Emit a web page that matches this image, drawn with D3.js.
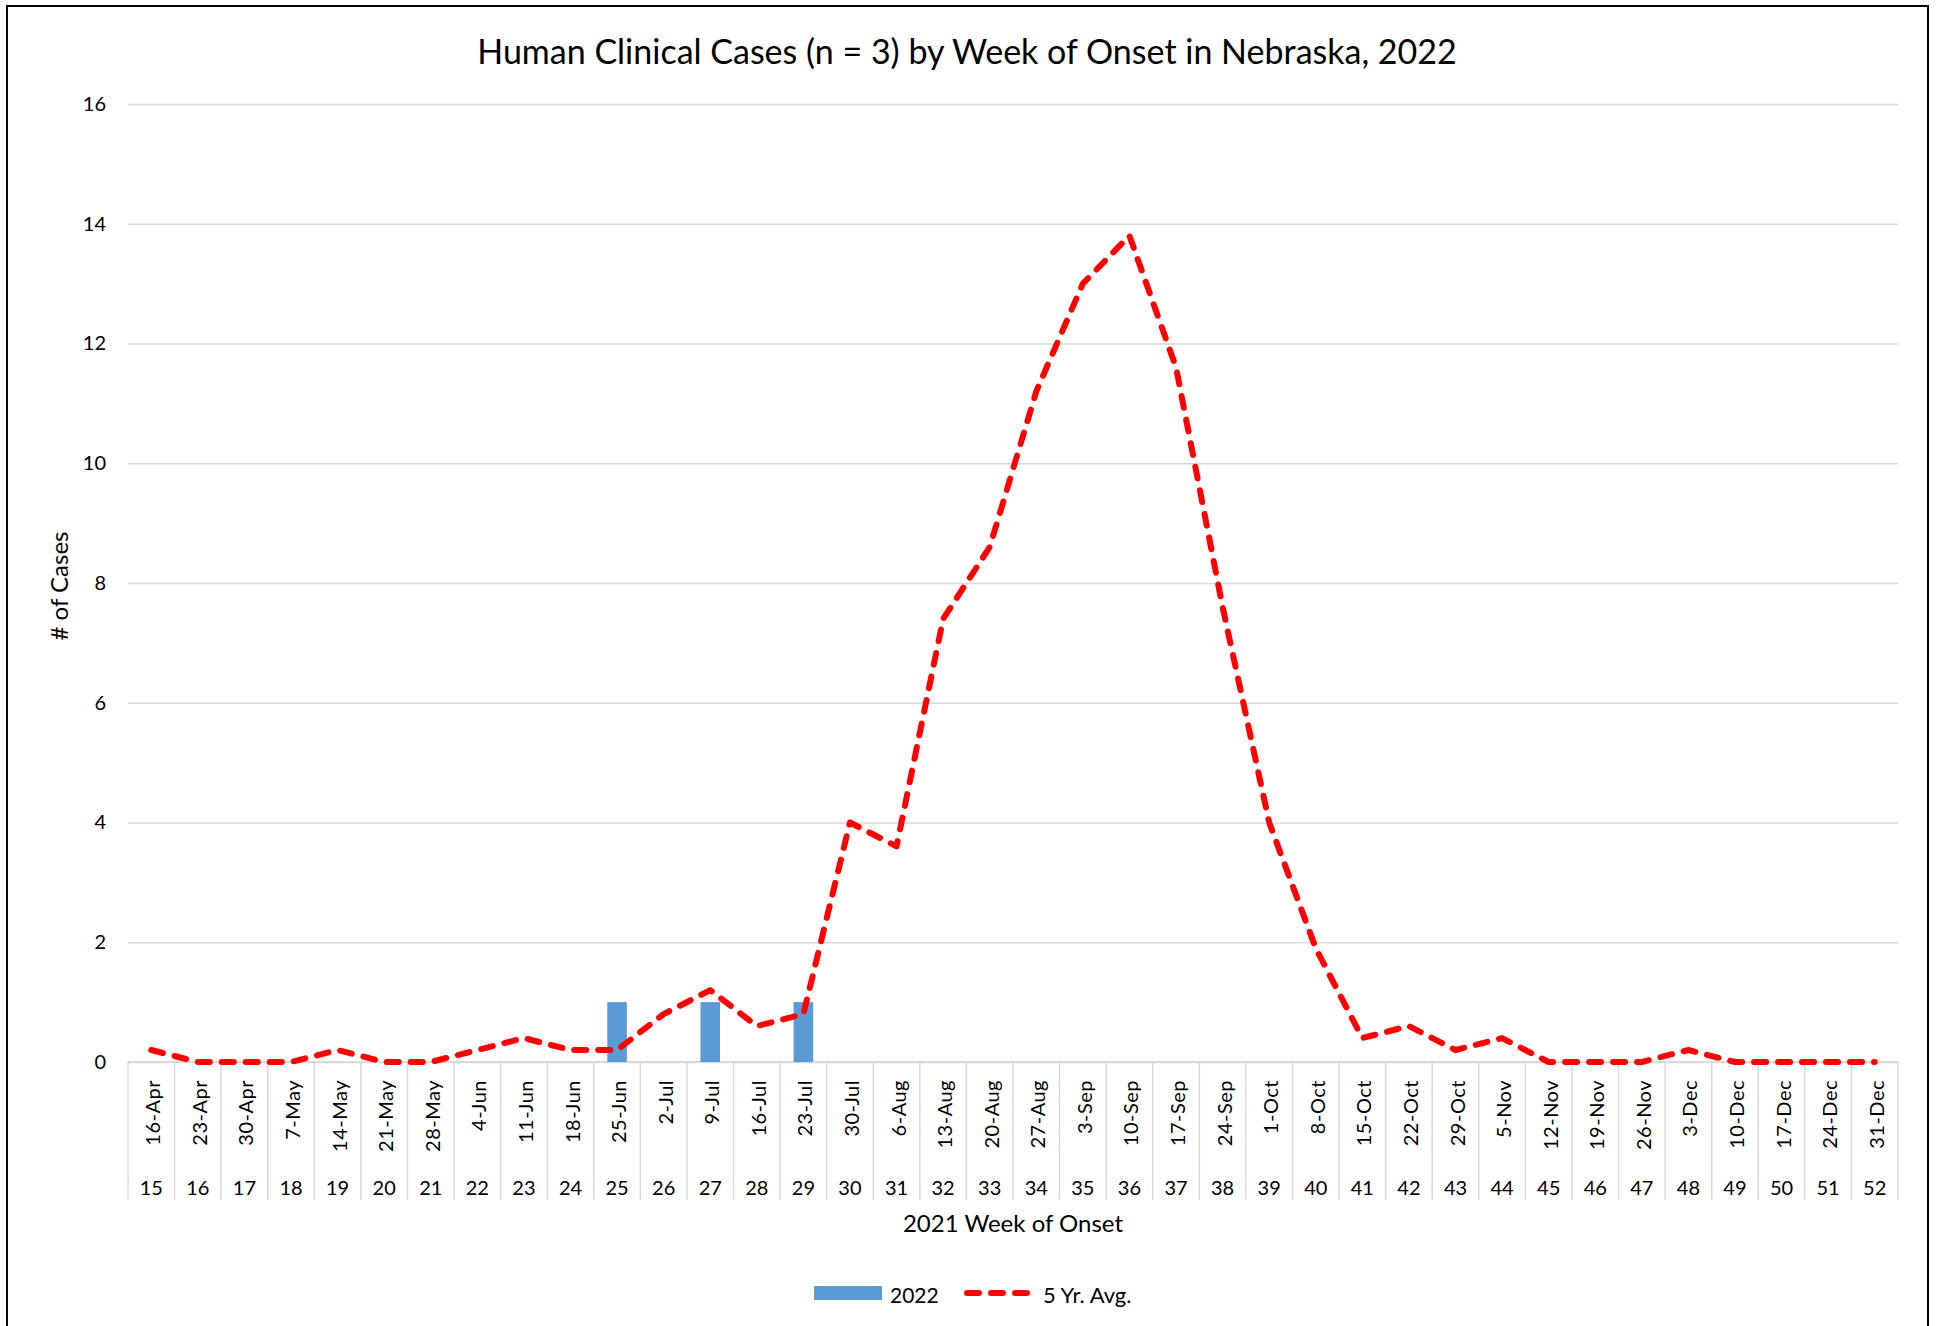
<!DOCTYPE html>
<html>
<head>
<meta charset="utf-8">
<script src="https://cdn.jsdelivr.net/npm/d3@7"></script>
<style>
  html, body { margin: 0; padding: 0; background: #fff; }
  svg { display: block; }
</style>
</head>
<body>
<div id="chart"></div>
<script>

const weeks = [15,16,17,18,19,20,21,22,23,24,25,26,27,28,29,30,31,32,33,34,35,36,37,38,39,40,41,42,43,44,45,46,47,48,49,50,51,52];
const weekDates = ["16-Apr","23-Apr","30-Apr","7-May","14-May","21-May","28-May","4-Jun","11-Jun","18-Jun","25-Jun","2-Jul","9-Jul","16-Jul","23-Jul","30-Jul","6-Aug","13-Aug","20-Aug","27-Aug","3-Sep","10-Sep","17-Sep","24-Sep","1-Oct","8-Oct","15-Oct","22-Oct","29-Oct","5-Nov","12-Nov","19-Nov","26-Nov","3-Dec","10-Dec","17-Dec","24-Dec","31-Dec"];
const cases2022 = [0,0,0,0,0,0,0,0,0,0,1,0,1,0,1,0,0,0,0,0,0,0,0,0,0,0,0,0,0,0,0,0,0,0,0,0,0,0];
const avg5yr = [0.2,0,0,0,0.2,0,0,0.2,0.4,0.2,0.2,0.8,1.2,0.6,0.8,4.0,3.6,7.4,8.6,11.2,13.0,13.8,11.6,7.6,4.0,1.9,0.4,0.6,0.2,0.4,0,0,0,0.2,0,0,0,0];
const yTicks = [0,2,4,6,8,10,12,14,16];

const width = 1937, height = 1326;
const margin = ({top: 104, right: 39, bottom: 264, left: 128});
const font = "Lato, 'Open Sans', sans-serif";

const data = weeks.map((w, i) => ({week: w, date: weekDates[i], bar: cases2022[i], avg: avg5yr[i]}));

const svg = d3.select("#chart")
            .append("svg")
            .attr("width", width)
            .attr("height", height)
            .style("font-family", font);

svg.append("rect")
    .attr("width", width)
    .attr("height", height)
    .attr("fill", "white");

// chart border (bottom edge runs off the picture)
svg.append("rect")
    .attr("x", 7)
    .attr("y", 6)
    .attr("width", 1921)
    .attr("height", 1340)
    .attr("fill", "none")
    .attr("stroke", "black")
    .attr("stroke-width", 2);

let x = d3.scaleBand()
        .domain(weeks)
        .range([margin.left, width - margin.right]);

let y = d3.scaleLinear()
        .domain([0, 16])
        .range([height - margin.bottom, margin.top]);

const y0 = y(0);

// horizontal gridlines + y labels
let yAxis = g => g
        .attr("transform", `translate(${margin.left},0)`)
        .call(d3.axisLeft(y).tickValues(yTicks).tickSize(0).tickPadding(22))
        .call(g => g.select(".domain").remove())
        .call(g => g.selectAll(".tick line").clone()
          .attr("stroke", "#d9d9d9")
          .attr("stroke-width", 1.5)
          .attr("x2", width - margin.right - margin.left))
        .call(g => g.selectAll(".tick text")
          .attr("fill", "#000")
          .style("font", `20px ${font}`));

svg.append("g").call(yAxis);

// category axis: separators between categories, two label levels
const axisG = svg.append("g");

axisG.selectAll("line.sep")
    .data(weeks.concat(["end"]))
    .enter().append("line")
      .attr("class", "sep")
      .attr("x1", (d, i) => margin.left + i * x.step())
      .attr("x2", (d, i) => margin.left + i * x.step())
      .attr("y1", y0)
      .attr("y2", y0 + 138)
      .attr("stroke", "#d9d9d9")
      .attr("stroke-width", 1.5);

axisG.append("line")
    .attr("x1", margin.left)
    .attr("x2", width - margin.right)
    .attr("y1", y0)
    .attr("y2", y0)
    .attr("stroke", "#d9d9d9")
    .attr("stroke-width", 2);

axisG.selectAll("text.date")
    .data(data)
    .enter().append("text")
      .attr("class", "date")
      .attr("transform", d => `translate(${x(d.week) + x.bandwidth() / 2 + 1},${y0 + 18}) rotate(-90)`)
      .attr("text-anchor", "end")
      .attr("dominant-baseline", "central")
      .style("font-size", "20px")
      .style("letter-spacing", "0.5px")
      .attr("fill", "#000")
      .text(d => d.date);

axisG.selectAll("text.wk")
    .data(data)
    .enter().append("text")
      .attr("class", "wk")
      .attr("x", d => x(d.week) + x.bandwidth() / 2)
      .attr("y", y0 + 125)
      .attr("text-anchor", "middle")
      .attr("dominant-baseline", "central")
      .style("font-size", "20px")
      .attr("fill", "#000")
      .text(d => d.week);

// bars (2022)
const barW = x.bandwidth() * 0.42;
svg.append("g")
    .selectAll("rect")
    .data(data.filter(d => d.bar > 0))
    .enter().append("rect")
      .attr("x", d => x(d.week) + (x.bandwidth() - barW) / 2)
      .attr("y", d => y(d.bar))
      .attr("width", barW)
      .attr("height", d => y0 - y(d.bar))
      .attr("fill", "#5b9bd5");

// 5 yr avg line
let line = d3.line()
        .x(d => x(d.week) + x.bandwidth() / 2)
        .y(d => y(d.avg));

svg.append("path")
    .datum(data)
    .attr("d", line)
    .attr("fill", "none")
    .attr("stroke", "#ff0000")
    .attr("stroke-width", 6)
    .attr("stroke-dasharray", "12 12")
    .attr("stroke-linecap", "round")
    .attr("stroke-linejoin", "round");

// titles
svg.append("text")
    .attr("x", 967)
    .attr("y", 50)
    .attr("text-anchor", "middle")
    .attr("dominant-baseline", "central")
    .style("font-size", "34px")
    .attr("fill", "#000")
    .text("Human Clinical Cases (n = 3) by Week of Onset in Nebraska, 2022");

svg.append("text")
    .attr("transform", `translate(58,586) rotate(-90)`)
    .attr("text-anchor", "middle")
    .attr("dominant-baseline", "central")
    .style("font-size", "24px")
    .attr("fill", "#000")
    .text("# of Cases");

svg.append("text")
    .attr("x", (margin.left + width - margin.right) / 2)
    .attr("y", 1222)
    .attr("text-anchor", "middle")
    .attr("dominant-baseline", "central")
    .style("font-size", "24px")
    .attr("fill", "#000")
    .text("2021 Week of Onset");

// legend
const legend = svg.append("g").attr("transform", "translate(814,1293)");

legend.append("rect")
    .attr("x", 0)
    .attr("y", -7)
    .attr("width", 68)
    .attr("height", 14)
    .attr("fill", "#5b9bd5");

legend.append("text")
    .attr("x", 76)
    .attr("y", 1)
    .attr("dominant-baseline", "central")
    .style("font-size", "21px")
    .attr("fill", "#000")
    .text("2022");

legend.append("line")
    .attr("x1", 153)
    .attr("x2", 213)
    .attr("y1", 0)
    .attr("y2", 0)
    .attr("stroke", "#ff0000")
    .attr("stroke-width", 6)
    .attr("stroke-dasharray", "12 12")
    .attr("stroke-linecap", "round");

legend.append("text")
    .attr("x", 229)
    .attr("y", 1)
    .attr("dominant-baseline", "central")
    .style("font-size", "22px")
    .attr("fill", "#000")
    .text("5 Yr. Avg.");

</script>
</body>
</html>
